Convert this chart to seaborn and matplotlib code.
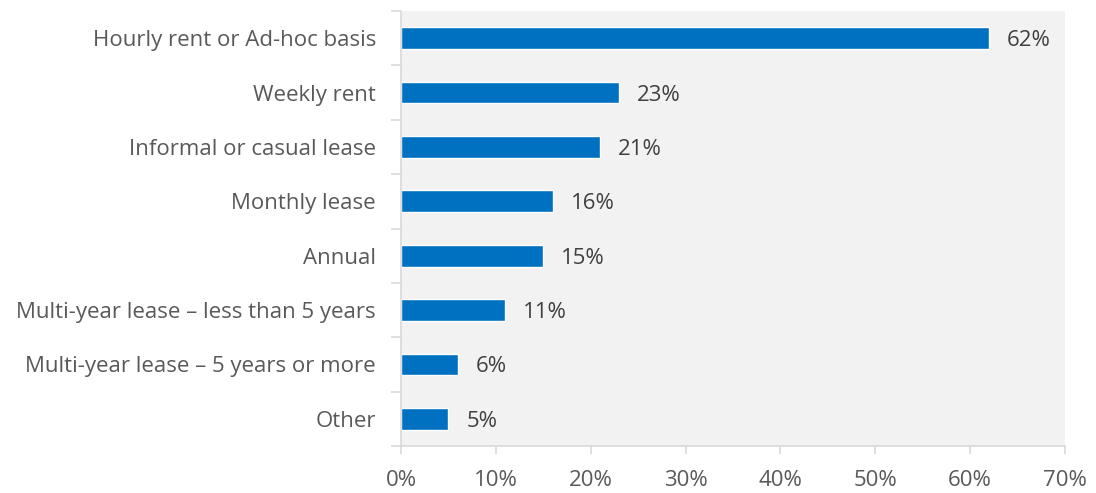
import matplotlib
matplotlib.use("Agg")
import matplotlib.pyplot as plt
import seaborn as sns
import pandas as pd
from matplotlib.ticker import FixedLocator, PercentFormatter

categories = [
    "Hourly rent or Ad-hoc basis",
    "Weekly rent",
    "Informal or casual lease",
    "Monthly lease",
    "Annual",
    "Multi-year lease \u2013 less than 5 years",
    "Multi-year lease \u2013 5 years or more",
    "Other",
]
shares = [62, 23, 21, 16, 15, 11, 6, 5]
x_ticks = [0, 10, 20, 30, 40, 50, 60, 70]

df = pd.DataFrame({"category": categories, "share": shares})

sns.set_theme(style="white")
plt.rcParams["font.family"] = ["Open Sans", "DejaVu Sans"]

fig = plt.figure(figsize=(10.96, 4.93), dpi=100)
ax = fig.add_axes([0.3659, 0.0953, 0.6058, 0.8824])
ax.set_facecolor("#f2f2f2")

sns.barplot(data=df, x="share", y="category", color="#0070C0",
            saturation=1, width=0.4, ax=ax, orient="h")

for i, v in enumerate(shares):
    ax.text(v + 1.9, i, f"{v}%", va="center_baseline", ha="left",
            fontsize=16, color="#404040")

ax.set_xlim(0, 70)
ax.set_ylim(len(categories) - 0.5, -0.5)
ax.xaxis.set_major_locator(FixedLocator(x_ticks))
ax.xaxis.set_major_formatter(PercentFormatter(decimals=0))
ax.set_xlabel("")
ax.set_ylabel("")

for side in ("top", "right"):
    ax.spines[side].set_visible(False)
for side in ("left", "bottom"):
    ax.spines[side].set_visible(True)
    ax.spines[side].set_color("#d9d9d9")
    ax.spines[side].set_linewidth(1.2)

ax.tick_params(axis="x", which="major", bottom=True, length=6, width=1.2,
               color="#d9d9d9", labelsize=16, labelcolor="#595959", pad=11)
ax.tick_params(axis="y", which="major", left=False, labelsize=16,
               labelcolor="#595959", pad=12)
ax.yaxis.set_minor_locator(FixedLocator([i - 0.5 for i in range(len(categories) + 1)]))
ax.tick_params(axis="y", which="minor", left=True, length=7, width=1.2,
               color="#d9d9d9")

fig.savefig("out.png", dpi=100)
